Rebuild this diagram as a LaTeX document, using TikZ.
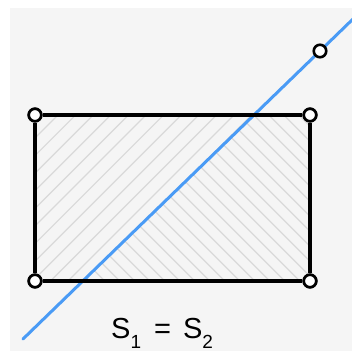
\documentclass[tikz,border=0pt]{standalone}
\usepackage{fontspec}
\setmainfont{Liberation Sans}
\definecolor{bggray}{HTML}{F5F5F5}
\definecolor{hatchgray}{HTML}{D9D9D9}
\definecolor{lineblue}{HTML}{4A9BF5}
\newcommand{\lowsub}[1]{\raisebox{-10pt}{\fontsize{19}{20}\selectfont #1}}
\begin{document}
\begin{tikzpicture}[x=1pt,y=-1pt,
  hatch/.style={draw=hatchgray,line width=1.2pt},
  vertex/.style={circle,draw=black,fill=white,line width=2.6pt,minimum size=12.5pt,inner sep=0pt},
  edge/.style={draw=black,line width=3.2pt},
  cutline/.style={draw=lineblue,line width=3pt,line cap=round}]
\useasboundingbox (0,0) rectangle (352,351);
\fill[white] (0,0) rectangle (352,351);
\fill[bggray] (10,8) rectangle (352,351);
% hatch left part
\begin{scope}
\clip (35,115) -- (255,115) -- (83,281) -- (35,281) -- cycle;
\foreach \k in {-2,...,30}{
  \pgfmathsetmacro{\c}{173+17.6*\k}
  \draw[hatch] (\c,0) -- (\c-400,400);
}
\end{scope}
% hatch right part
\begin{scope}
\clip (255,115) -- (310,115) -- (310,281) -- (83,281) -- cycle;
\foreach \k in {-30,...,10}{
  \pgfmathsetmacro{\c}{161.3+15*\k}
  \draw[hatch] (0,\c) -- (400,\c+400);
}
\end{scope}
\node[vertex] (tl) at (35,115) {};
\node[vertex] (tr) at (310,115) {};
\node[vertex] (br) at (310,281) {};
\node[vertex] (bl) at (35,281) {};
\coordinate (s) at (23,339);
\coordinate (e) at (360,12.2);
\begin{scope}
\clip (0,0) rectangle (352,351);
\draw[cutline] (s) -- (e);
\end{scope}
\draw[edge] (tl) -- (tr) -- (br) -- (bl) -- (tl);
\node[vertex] (tl2) at (35,115) {};
\node[vertex] (tr2) at (310,115) {};
\node[vertex] (br2) at (310,281) {};
\node[vertex] (bl2) at (35,281) {};
\node[vertex] (p) at (320,51) {};
\node[anchor=base west,inner sep=0pt,font=\fontsize{29}{32}\selectfont] (lbl) at (111,338) {S\lowsub{1}\hspace{13pt}=\hspace{12pt}S\lowsub{2}};
\end{tikzpicture}
\end{document}
